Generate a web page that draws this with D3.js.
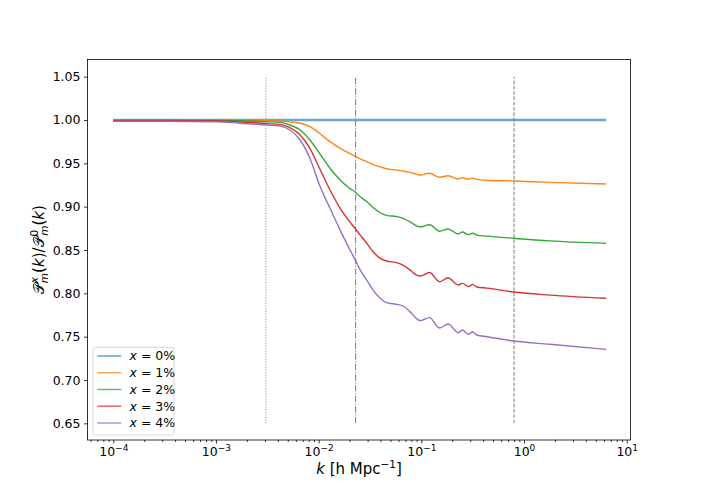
<!DOCTYPE html>
<meta charset="utf-8">
<style>
body { margin: 0; background: #fff; }
text { font-family: "DejaVu Sans", sans-serif; fill: #000; }
.tick text { font-size: 12.5px; }
</style>
<body>
<div id="chart"></div>
<script src="https://cdn.jsdelivr.net/npm/d3@7"></script>
<script>

var WIDTH = 701;
var HEIGHT = 495;

// wavenumber grid, h/Mpc
var kValues = [0.0001, 0.000316, 0.001, 0.0017, 0.00309, 0.00417, 0.00525, 0.00661,
               0.00822, 0.0102, 0.0129, 0.0162, 0.020, 0.0224, 0.0251, 0.0295,
               0.0339, 0.0398, 0.0457, 0.0575, 0.0661, 0.0776, 0.0891, 0.0977,
               0.120, 0.151, 0.182, 0.229, 0.251, 0.288, 0.316, 0.347, 0.437,
               0.794, 1.78, 6.31];

var ratio0 = [1, 1, 1, 1, 1, 1, 1, 1, 1, 1, 1, 1, 1, 1, 1, 1, 1, 1,
              1, 1, 1, 1, 1, 1, 1, 1, 1, 1, 1, 1, 1, 1, 1, 1, 1, 1];
var ratio1 = [1.0, 1.0, 0.9998, 0.9997, 0.9992, 0.9988, 0.9977, 0.9962, 0.9923,
              0.9847, 0.975, 0.9673, 0.9616, 0.9585, 0.9555, 0.9519, 0.9485,
              0.946, 0.9438, 0.9423, 0.9412, 0.9395, 0.9375, 0.9365, 0.9385,
              0.9339, 0.9357, 0.9319, 0.9333, 0.9318, 0.9328, 0.9315, 0.9305,
              0.9296, 0.928, 0.9262];
var ratio2 = [0.9997, 0.9997, 0.9995, 0.9992, 0.998, 0.9973, 0.9942, 0.9885,
              0.9769, 0.9616, 0.9443, 0.9308, 0.9212, 0.9175, 0.912, 0.9057,
              0.899, 0.893, 0.890, 0.8885, 0.8866, 0.8825, 0.878, 0.8765,
              0.8792, 0.8717, 0.8742, 0.8685, 0.8708, 0.8677, 0.8693, 0.8672,
              0.866, 0.8635, 0.8605, 0.8577];
var ratio3 = [0.9993, 0.9993, 0.999, 0.998, 0.9958, 0.995, 0.9911, 0.9827,
              0.9673, 0.9443, 0.9192, 0.8981, 0.8827, 0.8755, 0.868, 0.8577,
              0.848, 0.8404, 0.8373, 0.8354, 0.8327, 0.827, 0.8212, 0.820,
              0.824, 0.8134, 0.818, 0.8096, 0.8115, 0.8077, 0.8104, 0.8073,
              0.806, 0.8015, 0.798, 0.7943];
var ratio4 = [0.9985, 0.9985, 0.998, 0.9963, 0.9942, 0.9931, 0.9885, 0.9769,
              0.9558, 0.925, 0.8981, 0.873, 0.851, 0.840, 0.828, 0.815,
              0.8038, 0.7943, 0.7892, 0.7873, 0.7854, 0.7788, 0.7712, 0.7684,
              0.772, 0.760, 0.7646, 0.7546, 0.7577, 0.7527, 0.7557, 0.7519,
              0.750, 0.745, 0.7412, 0.7354];

var seriesNames = ['0%', '1%', '2%', '3%', '4%'];
var seriesColors = ['#1f77b4', '#ff7f0e', '#2ca02c', '#d62728', '#9467bd'];
var seriesValues = [ratio0, ratio1, ratio2, ratio3, ratio4];

// characteristic scales marked by vertical lines
var vlineK = [0.00307, 0.0229, 0.8];
var vlineDash = ['1,1.65', '6.4,1.6,1,1.6', '3.7,1.6'];
var vlineRange = [0.65, 1.05];

var yTicks = [0.65, 0.70, 0.75, 0.80, 0.85, 0.90, 0.95, 1.00, 1.05];
var xTickExp = [-4, -3, -2, -1, 0, 1];

var LEFT = 87.5, RIGHT = 630.5, TOP = 59.5, BOTTOM = 440;

var svg = d3.select('#chart').append('svg')
    .attr('width', WIDTH)
    .attr('height', HEIGHT);

var x = d3.scaleLog()
    .domain([5.61e-5, 10.89])
    .range([LEFT, RIGHT]);
var y = d3.scaleLinear()
    .domain([0.6308, 1.0698])
    .range([BOTTOM, TOP]);

// vertical markers
vlineK.forEach(function(k, i) {
  svg.append('line')
      .attr('x1', x(k)).attr('x2', x(k))
      .attr('y1', y(vlineRange[0])).attr('y2', y(vlineRange[1]))
      .attr('stroke', i == 0 ? '#999' : '#888')
      .attr('stroke-width', 1.1)
      .attr('stroke-dasharray', vlineDash[i]);
});

var line = d3.line()
    .x(function(d) { return x(d[0]); })
    .y(function(d) { return y(d[1]); })
    .curve(d3.curveMonotoneX);

seriesValues.forEach(function(vals, i) {
  var pts = kValues.map(function(k, j) { return [k, vals[j]]; });
  svg.append('path')
      .datum(pts)
      .attr('fill', 'none')
      .attr('stroke', seriesColors[i])
      .attr('stroke-width', i == 0 ? 2.3 : 1.4)
      .attr('stroke-opacity', i == 0 ? 0.65 : 0.95)
      .attr('d', line);
});

// axes
var yAxis = d3.axisLeft(y)
    .tickValues(yTicks)
    .tickSize(3.5)
    .tickPadding(3.5)
    .tickFormat(d3.format('.2f'));
var gy = svg.append('g')
    .attr('transform', 'translate(' + LEFT + ',0)')
    .call(yAxis);

var minorK = [];
for (var e = -5; e <= 1; e++) {
  for (var m = 2; m <= 9; m++) {
    var v = m * Math.pow(10, e);
    if (v > x.domain()[0] && v < x.domain()[1]) minorK.push(v);
  }
}
var gxMinor = svg.append('g')
    .attr('transform', 'translate(0,' + BOTTOM + ')')
    .call(d3.axisBottom(x).tickValues(minorK).tickSize(2).tickFormat(''));
var gx = svg.append('g')
    .attr('transform', 'translate(0,' + BOTTOM + ')')
    .call(d3.axisBottom(x)
      .tickValues(xTickExp.map(function(p) { return Math.pow(10, p); }))
      .tickSize(3.5)
      .tickFormat(''));

gx.selectAll('.tick').each(function(d, i) {
  var t = d3.select(this).append('text')
      .attr('y', 16)
      .attr('text-anchor', 'middle')
      .style('font-size', '12.5px');
  t.append('tspan').text('10');
  t.append('tspan').attr('dy', -5).style('font-size', '9px')
      .text(xTickExp[i] < 0 ? '\u2212' + (-xTickExp[i]) : xTickExp[i]);
});

[gx, gxMinor, gy].forEach(function(g) {
  g.select('.domain').remove();
  g.selectAll('line').attr('stroke', '#000').attr('stroke-width', 0.8);
});

svg.append('rect')
    .attr('x', LEFT).attr('y', TOP)
    .attr('width', RIGHT - LEFT).attr('height', BOTTOM - TOP)
    .attr('fill', 'none')
    .attr('stroke', '#000')
    .attr('stroke-width', 0.8);

// axis labels
var xl = svg.append('text')
    .attr('x', (LEFT + RIGHT) / 2)
    .attr('y', 474)
    .attr('text-anchor', 'middle')
    .style('font-size', '15px');
xl.append('tspan').style('font-style', 'italic').text('k');
xl.append('tspan').text(' [h Mpc');
xl.append('tspan').attr('dy', -6).style('font-size', '10.5px').text('\u22121');
xl.append('tspan').attr('dy', 6).text(']');

var yl = svg.append('text')
    .attr('transform', 'translate(44,' + ((TOP + BOTTOM) / 2) + ') rotate(-90)')
    .attr('text-anchor', 'middle')
    .style('font-size', '15px');
yl.append('tspan').text('\ud835\udcab');
yl.append('tspan').attr('dy', -6).style('font-size', '10.5px').style('font-style', 'italic').text('x');
yl.append('tspan').attr('dx', -6).attr('dy', 10).style('font-size', '10.5px').style('font-style', 'italic').text('m');
yl.append('tspan').attr('dy', -4).text('(');
yl.append('tspan').style('font-style', 'italic').text('k');
yl.append('tspan').text(')/');
yl.append('tspan').text('\ud835\udcab');
yl.append('tspan').attr('dy', -6).style('font-size', '10.5px').text('0');
yl.append('tspan').attr('dx', -6).attr('dy', 10).style('font-size', '10.5px').style('font-style', 'italic').text('m');
yl.append('tspan').attr('dy', -4).text('(');
yl.append('tspan').style('font-style', 'italic').text('k');
yl.append('tspan').text(')');

// legend
var lg = svg.append('g');
lg.append('rect')
    .attr('x', 93).attr('y', 347.3)
    .attr('width', 81).attr('height', 87.7)
    .attr('rx', 2.5)
    .attr('fill', '#fff')
    .attr('fill-opacity', 0.8)
    .attr('stroke', '#ccc')
    .attr('stroke-width', 0.8);
seriesNames.forEach(function(name, i) {
  var yy = 356 + i * 16.75;
  lg.append('line')
      .attr('x1', 97.3).attr('x2', 121.3)
      .attr('y1', yy).attr('y2', yy)
      .attr('stroke', seriesColors[i])
      .attr('stroke-opacity', 0.7)
      .attr('stroke-width', 1.5);
  var t = lg.append('text')
      .attr('x', 129.5).attr('y', yy + 4.4)
      .style('font-size', '12.5px');
  t.append('tspan').style('font-style', 'italic').text('x');
  t.append('tspan').text(' = ' + name);
});

</script>
</body>
